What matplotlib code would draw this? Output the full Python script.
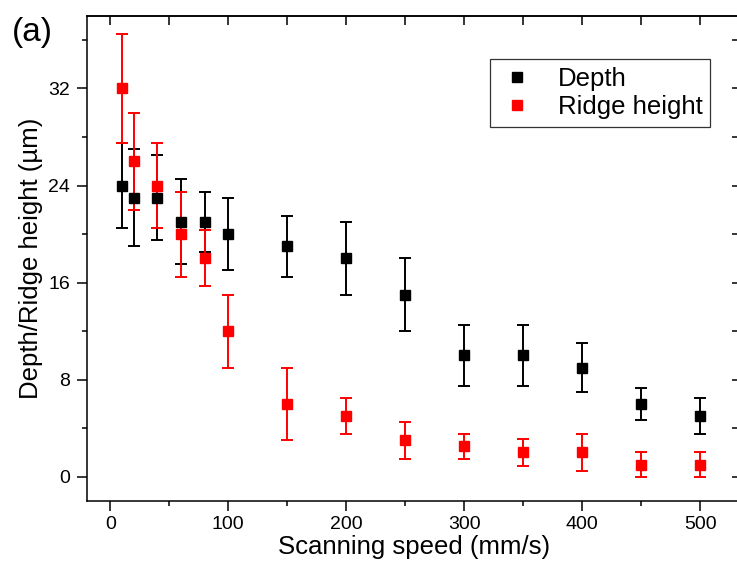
import numpy as np
import matplotlib
matplotlib.use("Agg")
import matplotlib.pyplot as plt
from matplotlib.ticker import MultipleLocator

plt.rcParams['font.family'] = ['Liberation Sans', 'DejaVu Sans']

speed = [10, 20, 40, 60, 80, 100, 150, 200, 250, 300, 350, 400, 450, 500]
depth = [24, 23, 23, 21, 21, 20, 19, 18, 15, 10, 10, 9, 6, 5]
depth_err = [3.5, 4, 3.5, 3.5, 2.5, 3, 2.5, 3, 3, 2.5, 2.5, 2, 1.3, 1.5]
ridge = [32, 26, 24, 20, 18, 12, 6, 5, 3, 2.5, 2, 2, 1, 1]
ridge_err = [4.5, 4, 3.5, 3.5, 2.3, 3, 3, 1.5, 1.5, 1, 1.1, 1.5, 1, 1]

W, H = 737, 573
fig = plt.figure(figsize=(W / 100, H / 100), dpi=100)
left_px, right_px, top_px, bot_px = 86.7, 741, 15.7, 501
ax = fig.add_axes([left_px / W, 1 - bot_px / H, (right_px - left_px) / W, (bot_px - top_px) / H])

ekw = dict(fmt='none', elinewidth=1.4, capsize=4.3, capthick=1.4)
ax.errorbar(speed, depth, yerr=depth_err, ecolor='black', **ekw)
ax.errorbar(speed, ridge, yerr=ridge_err, ecolor='#ff0000', **ekw)
ax.plot(speed, depth, 's', color='black', markersize=7.2, label='Depth', zorder=3)
ax.plot(speed, ridge, 's', color='#ff0000', markersize=7.2, label='Ridge height', zorder=3)

ax.set_xlim(-20, 534.5)
ax.set_ylim(-2, 38)
ax.xaxis.set_major_locator(MultipleLocator(100))
ax.xaxis.set_minor_locator(MultipleLocator(50))
ax.yaxis.set_major_locator(MultipleLocator(8))
ax.yaxis.set_minor_locator(MultipleLocator(4))
for s in ax.spines.values():
    s.set_linewidth(1.1)
ax.tick_params(axis='both', which='major', direction='out', length=7, width=1.1, labelsize=14)
ax.tick_params(axis='both', which='minor', direction='out', length=3.6, width=1.1)
ax.tick_params(axis='y', which='major', pad=5)
ax.tick_params(axis='x', which='major', pad=3.5)

sec = ax.secondary_xaxis('top')
sec.set_xticks(np.arange(0, 550, 50))
sec.tick_params(direction='in', length=6.7, width=1.1, labeltop=False)
sec.spines['top'].set_linewidth(1.1)

secy = ax.secondary_yaxis('right')
secy.set_yticks(np.arange(0, 40, 4))
secy.tick_params(direction='in', length=6.7, width=1.1, labelright=False)
secy.spines['right'].set_linewidth(1.1)

ax.set_xlabel('Scanning speed (mm/s)', fontsize=18.5, labelpad=2)
ax.set_ylabel('Depth/Ridge height (µm)', fontsize=18.5, labelpad=4)

leg = ax.legend(loc='upper left', bbox_to_anchor=(0.6161, 0.911), borderaxespad=0,
                fontsize=18.5, handlelength=1.55, handletextpad=0.8, borderpad=0.3,
                labelspacing=0.18, fancybox=False, frameon=True, numpoints=1)
leg.get_frame().set_edgecolor('black')
leg.get_frame().set_linewidth(0.9)

fig.text(12 / W, 1 - 32 / H, '(a)', fontsize=24, ha='left', va='center')

fig.savefig('out.png', dpi=100)
